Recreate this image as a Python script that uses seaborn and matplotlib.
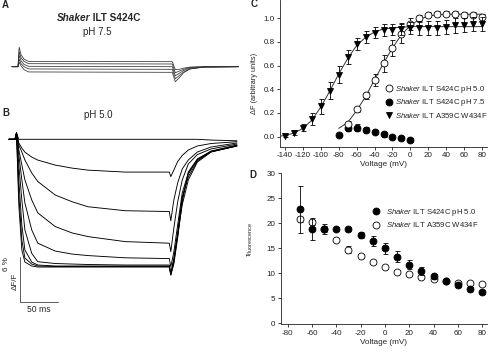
import numpy as np
import pandas as pd
import matplotlib
matplotlib.use("Agg")
import matplotlib.pyplot as plt
import seaborn as sns
from matplotlib.lines import Line2D

sns.set_style("ticks")
plt.rcParams['font.family'] = ['Liberation Sans', 'DejaVu Sans']
plt.rcParams['mathtext.fontset'] = 'custom'
plt.rcParams['mathtext.it'] = 'Liberation Sans:italic'
plt.rcParams['mathtext.rm'] = 'Liberation Sans'
plt.rcParams['mathtext.bf'] = 'Liberation Sans:bold'
plt.rcParams['axes.unicode_minus'] = False

# ---------------- data ----------------
# A: fluorescence traces, pH 7.5 (time in ms, dF/F in %)
time_a = [-8, 0, 1.5, 4, 8, 14, 203, 207, 212, 218, 226, 245, 290]
traces_a = [
    [0, 0, 2.6, 1.6, 1.0, 0.70, 0.67, -0.4, -0.35, -0.2, -0.05, 0, 0],
    [0, 0, 2.0, 1.2, 0.7, 0.40, 0.36, -0.8, -0.6, -0.35, -0.1, 0, 0],
    [0, 0, 1.5, 0.8, 0.3, 0.05, 0.00, -1.2, -0.9, -0.5, -0.2, -0.05, 0],
    [0, 0, 1.0, 0.4, 0.0, -0.30, -0.35, -1.6, -1.2, -0.7, -0.3, -0.05, 0],
    [0, 0, 0.6, 0.1, -0.4, -0.70, -0.75, -2.0, -1.5, -0.8, -0.3, -0.05, 0],
]

# B: fluorescence traces, pH 5.0
time_b = [-8, 0, 2, 5, 9, 13, 22, 30, 53, 75, 96, 145, 203, 205, 209, 214, 220, 228, 240, 258, 292]
traces_b = [
    [0, 0, 0.8, 0, 0, 0, 0, 0, 0, 0, 0, 0, 0, 0, 0, 0, 0, 0, 0, -0.1, -0.2],
    [0, 0, 0.84, -0.49, -1.17, -1.71, -2.37, -2.77, -3.44, -3.84, -4.11, -4.37, -4.37, -4.97, -4.1, -2.96, -2.16, -1.43, -0.89, -0.56, -0.32],
    [0, 0, 0.84, -0.76, -1.69, -2.76, -4.48, -5.63, -7.43, -8.32, -8.99, -9.52, -9.63, -10.85, -8.09, -5.83, -3.96, -2.76, -1.69, -1.03, -0.49],
    [0, 0, 0.84, -1.41, -3.41, -5.41, -8.08, -9.81, -11.64, -12.48, -12.97, -13.64, -13.85, -14.97, -11.83, -8.37, -5.44, -3.29, -2.03, -1.29, -0.63],
    [0, 0, 0.84, -2.09, -5.41, -8.48, -12.08, -13.85, -14.9, -15.3, -15.5, -15.8, -15.9, -17.0, -15.03, -11.43, -7.16, -4.49, -2.63, -1.56, -0.76],
    [0, 0, 0.84, -3.43, -8.09, -12.08, -15.2, -16.32, -16.56, -16.63, -16.69, -16.76, -16.76, -17.83, -15.83, -12.76, -8.76, -5.43, -3.03, -1.69, -0.89],
    [0, 0, 0.84, -5.43, -11.43, -14.76, -16.36, -16.76, -16.89, -16.89, -16.89, -16.89, -16.89, -17.96, -16.09, -12.36, -7.69, -5.03, -2.89, -1.69, -0.83],
    [0, 0, 0.84, -7.43, -13.43, -15.83, -16.63, -16.89, -16.96, -16.96, -16.96, -16.96, -16.96, -18.09, -16.36, -12.89, -7.96, -4.63, -2.76, -1.63, -0.89],
    [0, 0, 0.84, -8.76, -14.76, -16.36, -16.89, -17.03, -17.03, -17.03, -17.03, -17.03, -17.03, -18.09, -16.63, -13.16, -8.36, -4.36, -2.63, -1.63, -0.89],
]

# C: F-V relations
v_open = list(range(-70, 81, 10))
f_open = [0.11, 0.23, 0.35, 0.48, 0.62, 0.75, 0.87, 0.95, 1.0, 1.03, 1.04, 1.04, 1.04, 1.03, 1.03, 1.01]
f_open_err = [0.02, 0.02, 0.03, 0.05, 0.07, 0.07, 0.08, 0.05, 0.03, 0.02, 0.02, 0.02, 0.02, 0.02, 0.02, 0.03]
v_closed = list(range(-80, 1, 10))
f_closed = [0.015, 0.075, 0.075, 0.06, 0.04, 0.02, 0.0, -0.01, -0.03]
f_closed_err = [0.01, 0.03, 0.03, 0.02, 0.02, 0.02, 0.015, 0.015, 0.015]
v_tri = list(range(-140, 81, 10))
f_tri = [0.005, 0.035, 0.075, 0.15, 0.255, 0.39, 0.525, 0.67, 0.78, 0.84, 0.88, 0.9, 0.905,
         0.91, 0.92, 0.92, 0.92, 0.92, 0.93, 0.94, 0.945, 0.95, 0.955]
f_tri_err = [0.01, 0.02, 0.03, 0.05, 0.06, 0.07, 0.07, 0.06, 0.05, 0.05, 0.05, 0.05, 0.05,
             0.05, 0.05, 0.06, 0.06, 0.06, 0.06, 0.06, 0.06, 0.06, 0.06]
fit_tri_v = [-145, -140, -130, -120, -110, -100, -90, -80, -70, -60, -50, -40, -30, -20, -10, 0, 20, 40, 60, 80]
fit_tri = [0.005, 0.01, 0.03, 0.07, 0.14, 0.25, 0.385, 0.53, 0.66, 0.77, 0.84, 0.885, 0.91, 0.92, 0.925, 0.93, 0.93, 0.93, 0.93, 0.93]
fit_open_v = [-80, -70, -60, -50, -40, -30, -20, -10, 0, 10, 20, 30, 40, 60, 80]
fit_open = [0.07, 0.12, 0.22, 0.34, 0.48, 0.62, 0.75, 0.86, 0.94, 0.99, 1.02, 1.03, 1.035, 1.035, 1.035]

# D: time constants
v_d = list(range(-70, 81, 10))
tau_s424c = [22.8, 18.9, 18.9, 18.9, 18.8, 17.6, 16.5, 15.0, 13.3, 11.7, 10.5, 9.4, 8.4, 7.6, 6.9, 6.2]
tau_s424c_err = [4.7, 2.2, 1.0, 0.4, 0.4, 0.6, 1.0, 1.1, 1.1, 0.9, 0.8, 0.5, 0.3, 0.3, 0.3, 0.3]
tau_a359c = [20.8, 20.2, 18.8, 16.7, 14.7, 13.5, 12.2, 11.2, 10.3, 9.8, 9.2, 8.9, 8.4, 8.1, 8.0, 7.8]
tau_a359c_err = [0.5, 0.5, 0.6, 0.3, 0.7, 0.4, 0.3, 0.3, 0.4, 0.3, 0.3, 0.3, 0.3, 0.3, 0.3, 0.3]

lab_s424c_50 = r"$\mathit{Shaker}$ ILT S424C pH 5.0"
lab_s424c_75 = r"$\mathit{Shaker}$ ILT S424C pH 7.5"
lab_a359c = r"$\mathit{Shaker}$ ILT A359C W434F"

# ---------------- layout helpers (pixels) ----------------
W, H = 496, 352
fig = plt.figure(figsize=(W / 100, H / 100), dpi=100)


def box(l, t, r, b):
    return [l / W, 1 - b / H, (r - l) / W, (b - t) / H]


def ftxt(x, y, s, **kw):
    return fig.text(x / W, 1 - y / H, s, **kw)


def to_long(t, traces):
    rows = []
    for i, tr in enumerate(traces):
        for tt, val in zip(t, tr):
            rows.append((i, tt, val))
    return pd.DataFrame(rows, columns=["trace", "time", "dF"])


# ---------------- A ----------------
axA = fig.add_axes(box(3, 0, 253, 100))
sns.lineplot(data=to_long(time_a, traces_a), x="time", y="dF", units="trace", estimator=None,
             sort=False, color="#333333", lw=0.55, ax=axA)
axA.set_xlim(-19.74, 309.2)
axA.set_ylim(-4.44, 8.89)
axA.axis("off")

ftxt(2, 5, "A", fontsize=7, fontweight="bold", va="center")
t1 = ftxt(57, 18, "Shaker", fontsize=7.2, fontweight="bold", style="italic", va="center")
axA.annotate(" ILT S424C", xy=(1, 0.5), xycoords=t1, va="center", ha="left",
             fontsize=7.2, fontweight="bold")
ftxt(97, 32, "pH 7.5", fontsize=7, ha="center", va="center")

# ---------------- B ----------------
axB = fig.add_axes(box(0, 100, 250, 320))
sns.lineplot(data=to_long(time_b, traces_b), x="time", y="dF", units="trace", estimator=None,
             sort=False, color="black", lw=0.65, ax=axB)
axB.set_xlim(-19.74, 309.2)
axB.set_ylim(-24.09, 5.24)
axB.axis("off")
# scale bars: 6 % dF/F and 50 ms
axB.plot([6.6, 6.6, 56.6], [-15.7, -21.7, -21.7], color="#444444", lw=0.6)

ftxt(2, 113, "B", fontsize=7, fontweight="bold", va="center")
ftxt(98, 115, "pH 5.0", fontsize=7, ha="center", va="center")
ftxt(7, 264, "6 %", fontsize=5.8, rotation=90, ha="center", va="center")
ftxt(15, 281, "\u0394F/F", fontsize=5.8, rotation=90, ha="center", va="center")
ftxt(38.7, 310, "50 ms", fontsize=6.2, ha="center", va="center")

# ---------------- C ----------------
axC = fig.add_axes(box(280, 0, 487, 146.7))
sns.lineplot(x=fit_tri_v, y=fit_tri, color="#333333", lw=0.7, ax=axC, zorder=2)
sns.lineplot(x=fit_open_v, y=fit_open, color="#333333", lw=0.7, ax=axC, zorder=2)
eb = dict(ecolor="black", elinewidth=0.6, capsize=1.8, capthick=0.6, markersize=5,
          markeredgecolor="black", markeredgewidth=0.6, ls="none")
axC.errorbar(v_closed, f_closed, yerr=f_closed_err, fmt="o", markerfacecolor="black", zorder=3, **eb)
axC.errorbar(v_open, f_open, yerr=f_open_err, fmt="o", markerfacecolor="white", zorder=3, **eb)
axC.errorbar(v_tri, f_tri, yerr=f_tri_err, fmt="v", markerfacecolor="black", zorder=4, **eb)
axC.set_xlim(-145.6, 85.6)
axC.set_ylim(-0.085, 1.155)
axC.set_xticks(range(-140, 81, 20))
axC.set_yticks([0, 0.2, 0.4, 0.6, 0.8, 1.0])
axC.set_yticklabels(["0.0", "0.2", "0.4", "0.6", "0.8", "1.0"])
axC.set_xlabel("Voltage (mV)", fontsize=5.9, labelpad=1.5)
axC.set_ylabel("\u0394F (arbitrary units)", fontsize=5.3)
axC.yaxis.set_label_coords(-0.108, 0.43)

handles = [
    Line2D([], [], marker="o", ls="none", mfc="white", mec="black", mew=0.6, ms=5),
    Line2D([], [], marker="o", ls="none", mfc="black", mec="black", mew=0.6, ms=5),
    Line2D([], [], marker="v", ls="none", mfc="black", mec="black", mew=0.6, ms=5),
]
axC.legend(handles, [lab_s424c_50, lab_s424c_75, lab_a359c], loc="upper left",
           bbox_to_anchor=(385 / W, 1 - 84 / H), bbox_transform=fig.transFigure,
           frameon=False, fontsize=5.6, handlelength=0.9, handletextpad=0.35,
           labelspacing=0.3, borderpad=0, borderaxespad=0)

# ---------------- D ----------------
axD = fig.add_axes(box(281, 173.3, 487, 324))
axD.errorbar(v_d, tau_a359c, yerr=tau_a359c_err, fmt="o", markerfacecolor="white", zorder=3, **eb)
axD.errorbar(v_d, tau_s424c, yerr=tau_s424c_err, fmt="o", markerfacecolor="black", zorder=4, **eb)
axD.set_xlim(-85.5, 84)
axD.set_ylim(-0.2, 30)
axD.set_xticks(range(-80, 81, 20))
axD.set_yticks(range(0, 31, 5))
axD.set_xlabel("Voltage (mV)", fontsize=5.9, labelpad=1.5)
axD.set_ylabel(r"$\tau_{\mathrm{fluorescence}}$", fontsize=5.5)
axD.yaxis.set_label_coords(-0.125, 0.56)
handlesD = [
    Line2D([], [], marker="o", ls="none", mfc="black", mec="black", mew=0.6, ms=5),
    Line2D([], [], marker="o", ls="none", mfc="white", mec="black", mew=0.6, ms=5),
]
axD.legend(handlesD, [lab_s424c_50, lab_a359c], loc="upper left",
           bbox_to_anchor=(372 / W, 1 - 207 / H), bbox_transform=fig.transFigure,
           frameon=False, fontsize=5.6, handlelength=0.9, handletextpad=0.9,
           labelspacing=0.3, borderpad=0, borderaxespad=0)

for ax in (axC, axD):
    sns.despine(ax=ax)
    for s in ("left", "bottom"):
        ax.spines[s].set_linewidth(0.6)
        ax.spines[s].set_color("#222222")
    ax.tick_params(direction="out", length=2.5, width=0.6, labelsize=5.8, pad=1.5, colors="#222222")

ftxt(254, 4, "C", fontsize=7, fontweight="bold", va="center", ha="center")
ftxt(253, 175, "D", fontsize=7, fontweight="bold", va="center", ha="center")

fig.savefig("out.png", dpi=100)
